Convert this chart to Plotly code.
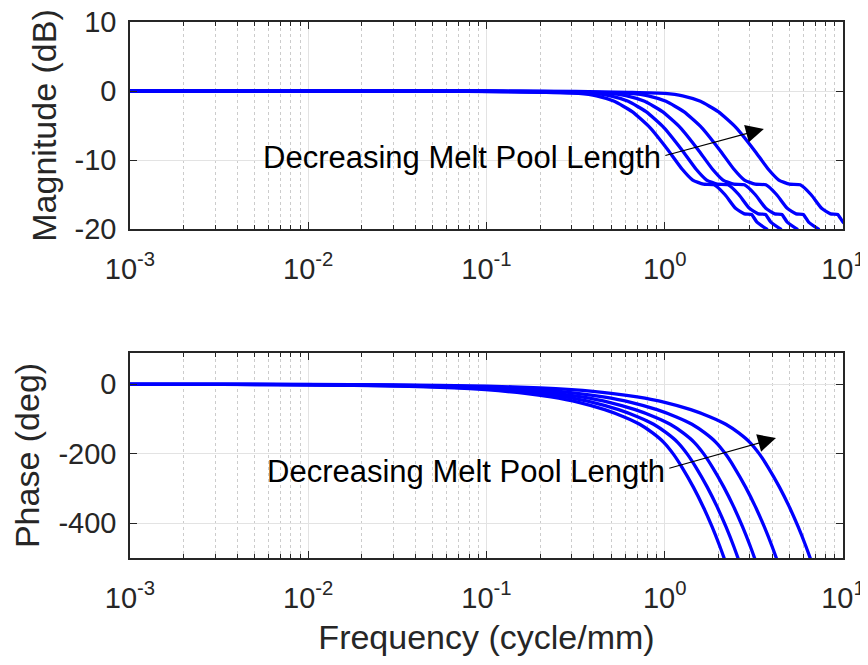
import plotly.graph_objects as go

# ---------------- data ----------------
# Magnitude (dB) levels shared by all five curves (frequency-scaled copies)
MAG_DB = [0, 0, -0.07, -0.2, -0.35, -0.7, -1.5, -3.0, -5.3, -8.5, -11.3,
          -12.9, -13.5, -13.6, -15.0, -17.0, -17.8, -17.9, -19.0, -20.1]
# frequency (cycle/mm) at which each curve reaches those levels
MAG_F_C1 = [0.001, 0.03289, 0.1040, 0.2075, 0.3289, 0.4140, 0.5212, 0.6561, 0.8260,
            1.040, 1.250, 1.435, 1.648, 1.892, 2.173, 2.495, 2.799, 3.069, 3.289, 3.776]
MAG_F_C2 = [0.001, 0.03936, 0.1245, 0.2483, 0.3936, 0.4955, 0.6237, 0.7852, 0.9886,
            1.245, 1.496, 1.718, 1.972, 2.265, 2.600, 2.985, 3.350, 3.673, 3.936, 4.519]
MAG_F_C3 = [0.001, 0.04864, 0.1538, 0.3069, 0.4864, 0.6124, 0.7709, 0.9705, 1.222,
            1.538, 1.849, 2.123, 2.438, 2.799, 3.214, 3.690, 4.140, 4.539, 4.864, 5.585]
MAG_F_C4 = [0.001, 0.0641, 0.2028, 0.4046, 0.6412, 0.8072, 1.016, 1.279, 1.611,
            2.028, 2.438, 2.799, 3.214, 3.690, 4.236, 4.864, 5.458, 5.984, 6.412, 7.362]
MAG_F_C5 = [0.001, 0.1, 0.316, 0.631, 1.0, 1.259, 1.585, 1.995, 2.512,
            3.162, 3.802, 4.365, 5.012, 5.754, 6.607, 7.586, 8.511, 9.333, 10.0, 11.48]

# Phase (deg) levels shared by all curves
PH_DEG = [-0.05, -0.5, -1.6, -5.2, -10.4, -15.6, -26, -36.4, -52, -73, -94,
          -115, -140, -167, -201, -239, -296, -353, -410, -467, -524]
PH_F_C1 = [0.000329, 0.003289, 0.009867, 0.03289, 0.06578, 0.09867, 0.1645, 0.2302, 0.3289, 0.4605, 0.5920,
           0.7236, 0.8551, 0.9867, 1.118, 1.250, 1.447, 1.645, 1.842, 2.039, 2.237]
PH_F_C2 = [0.000394, 0.003936, 0.01181, 0.03936, 0.07872, 0.1181, 0.1968, 0.2755, 0.3936, 0.5510, 0.7085,
           0.8659, 1.023, 1.181, 1.338, 1.496, 1.732, 1.968, 2.204, 2.440, 2.676]
PH_F_C3 = [0.000488, 0.004875, 0.01463, 0.04875, 0.0975, 0.1463, 0.2438, 0.3413, 0.4875, 0.6825, 0.8775,
           1.073, 1.268, 1.463, 1.658, 1.853, 2.145, 2.438, 2.730, 3.023, 3.315]
PH_F_C4 = [0.000646, 0.006457, 0.01937, 0.06457, 0.1291, 0.1937, 0.3229, 0.4520, 0.6457, 0.9040, 1.162,
           1.421, 1.679, 1.937, 2.195, 2.454, 2.841, 3.229, 3.616, 4.003, 4.391]
PH_F_C5 = [0.001, 0.01, 0.03, 0.1, 0.2, 0.3, 0.5, 0.7, 1.0, 1.4, 1.8,
           2.2, 2.6, 3.0, 3.4, 3.8, 4.4, 5.0, 5.6, 6.2, 6.8]

X_TICKS = [0.001, 0.01, 0.1, 1, 10]
X_TICKTEXT = ["10<sup>-3</sup>", "10<sup>-2</sup>", "10<sup>-1</sup>", "10<sup>0</sup>", "10<sup>1</sup>"]
MAG_TICKS = [-20, -10, 0, 10]
MAG_TICKTEXT = ["-20", "-10", "0", "10"]
PH_TICKS = [-400, -200, 0]
PH_TICKTEXT = ["-400", "-200", "0"]
ANNOT_TEXT = "Decreasing Melt Pool Length"

# ---------------- figure ----------------
BLUE = "#0000FF"
AX = "#262626"
FONT = "Liberation Sans, Arial, Helvetica, sans-serif"
LINE = dict(color=BLUE, width=3.3, shape="spline", smoothing=0.5)

fig = go.Figure()
for fx in [MAG_F_C1, MAG_F_C2, MAG_F_C3, MAG_F_C4, MAG_F_C5]:
    fig.add_trace(go.Scatter(x=fx, y=MAG_DB, mode="lines", xaxis="x", yaxis="y",
                             line=LINE, showlegend=False, hoverinfo="skip"))
for fx in [PH_F_C1, PH_F_C2, PH_F_C3, PH_F_C4, PH_F_C5]:
    fig.add_trace(go.Scatter(x=fx, y=PH_DEG, mode="lines", xaxis="x2", yaxis="y2",
                             line=LINE, showlegend=False, hoverinfo="skip"))


def xax(anchor, title=None):
    d = dict(type="log", range=[-3, 1], anchor=anchor, domain=[0, 1], automargin=False,
             tickvals=X_TICKS, ticktext=X_TICKTEXT, ticklabeloverflow="allow",
             ticks="inside", ticklen=7, tickwidth=1.2, tickcolor=AX, ticklabelstandoff=13,
             showline=True, linecolor=AX, linewidth=1.5, mirror="allticks",
             showgrid=True, gridcolor="#e3e3e3", gridwidth=1,
             minor=dict(ticks="inside", ticklen=4, tickcolor=AX, dtick="D1",
                        showgrid=True, gridcolor="#cccccc", griddash="dot", gridwidth=1),
             tickfont=dict(family=FONT, size=29, color=AX), zeroline=False)
    if title:
        d["title"] = dict(text=title, font=dict(family=FONT, size=34, color=AX), standoff=13)
    return d


def yax(anchor, rng, ticks, ticktext, domain, title):
    return dict(range=rng, anchor=anchor, domain=domain, automargin=False,
                tickvals=ticks, ticktext=ticktext, ticklabeloverflow="allow",
                ticks="inside", ticklen=7, tickwidth=1.2, tickcolor=AX, ticklabelstandoff=6,
                showline=True, linecolor=AX, linewidth=1.5, mirror="allticks",
                showgrid=True, gridcolor="#e3e3e3", gridwidth=1, zeroline=False,
                tickfont=dict(family=FONT, size=29, color=AX),
                title=dict(text=title, font=dict(family=FONT, size=34, color=AX), standoff=8))


# the page body adds an 8px offset, so margins are shifted to land the axes
# at the reference pixel positions
fig.update_layout(
    width=868, height=665,
    margin=dict(l=122, r=33, t=14, b=115),
    paper_bgcolor="white", plot_bgcolor="white",
    xaxis=xax("y"),
    yaxis=yax("x", [-20, 10], MAG_TICKS, MAG_TICKTEXT, [0.6138, 1.0], "Magnitude (dB)"),
    xaxis2=xax("y2", "Frequency (cycle/mm)"),
    yaxis2=yax("x2", [-500, 90], PH_TICKS, PH_TICKTEXT, [0.0, 0.3825], "Phase (deg)"),
)

# annotations: text + arrow (x in log10 units for log axes)
fig.add_annotation(x=-0.011, y=-9.6, xref="x", yref="y", text=ANNOT_TEXT, showarrow=False,
                   xanchor="right", yanchor="middle", font=dict(family=FONT, size=31, color="black"))
fig.add_annotation(x=0.556, y=-5.5, ax=-0.005, ay=-9.4, xref="x", yref="y", axref="x", ayref="y",
                   text="", showarrow=True, arrowhead=2, arrowsize=3, arrowwidth=1.2, arrowcolor="black")
fig.add_annotation(x=0.011, y=-250, xref="x2", yref="y2", text=ANNOT_TEXT, showarrow=False,
                   xanchor="right", yanchor="middle", font=dict(family=FONT, size=31, color="black"))
fig.add_annotation(x=0.624, y=-155, ax=0.017, ay=-243, xref="x2", yref="y2", axref="x2", ayref="y2",
                   text="", showarrow=True, arrowhead=2, arrowsize=3, arrowwidth=1.2, arrowcolor="black")

fig.write_html("out.html")
